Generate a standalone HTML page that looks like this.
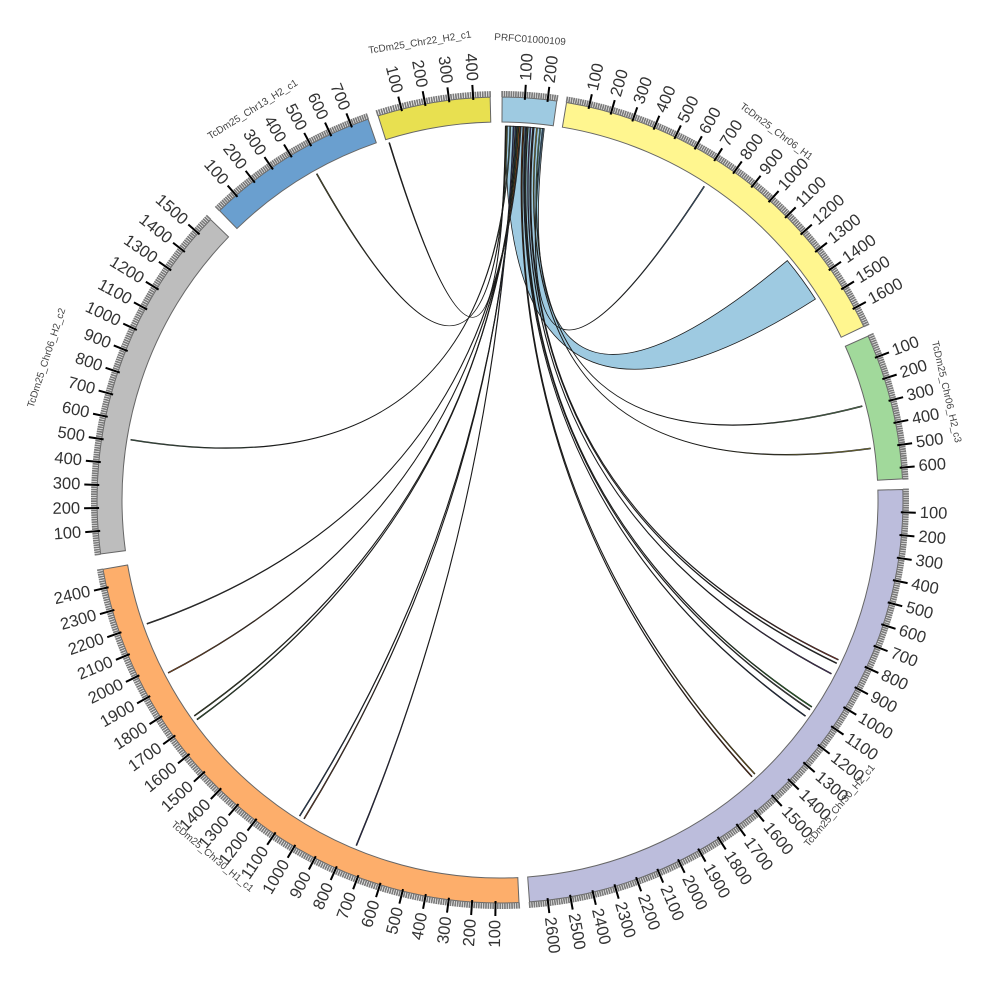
<!DOCTYPE html>
<html><head><meta charset="utf-8">
<style>
html,body{margin:0;padding:0;background:#fff;}
svg{display:block;}
.nm{font-family:"Liberation Sans",sans-serif;font-size:10px;fill:#444;}
.tk{font-family:"Liberation Sans",sans-serif;font-size:16.5px;fill:#333;}
</style></head>
<body>
<svg id="s" width="1000" height="1000" viewBox="0 0 1000 1000" xmlns="http://www.w3.org/2000/svg">
<g id="links"></g>
<g id="ring"></g>
<g id="ticks"></g>
<text class="nm" text-anchor="middle" dominant-baseline="central" transform="translate(530,40) rotate(4)">PRFC01000109</text>
<text class="nm" text-anchor="middle" dominant-baseline="central" transform="translate(776,132) rotate(37)">TcDm25_Chr06_H1</text>
<text class="nm" text-anchor="middle" dominant-baseline="central" transform="translate(946,392) rotate(77)">TcDm25_Chr06_H2_c3</text>
<text class="nm" text-anchor="middle" dominant-baseline="central" transform="translate(840,806) rotate(-50)">TcDm25_Chr30_H2_c1</text>
<text class="nm" text-anchor="middle" dominant-baseline="central" transform="translate(212,857) rotate(40)">TcDm25_Chr30_H1_c1</text>
<text class="nm" text-anchor="middle" dominant-baseline="central" transform="translate(47,358) rotate(-72)">TcDm25_Chr06_H2_c2</text>
<text class="nm" text-anchor="middle" dominant-baseline="central" transform="translate(253,110) rotate(-32)">TcDm25_Chr13_H2_c1</text>
<text class="nm" text-anchor="middle" dominant-baseline="central" transform="translate(420,43) rotate(-9)">TcDm25_Chr22_H2_c1</text>
</svg>
<script>
(function(){
var NS="http://www.w3.org/2000/svg";
function pt(r,d){var a=d*Math.PI/180;return [500+r*Math.sin(a),500-r*Math.cos(a)];}
function el(t,at,p){var e=document.createElementNS(NS,t);for(var k in at)e.setAttribute(k,at[k]);p.appendChild(e);return e;}
var segs=[[240,"#9ecae1",0.3,8.1],[1690,"#fff68f",9.5,64.5],[650,"#a1d99b",66.0,87.0],[2680,"#bcbddc",88.5,175.8],[2480,"#fdae6b",177.3,260.1],[1580,"#bdbdbd",262.3,314.1],[780,"#6a9fcf",315.9,340.9],[470,"#e8e050",342.4,358.6]];
var ring=document.getElementById("ring"),ticks=document.getElementById("ticks");
var R0=378,R1=403;
segs.forEach(function(sg){
  var a0=sg[2],a1=sg[3],s=(a1-a0)/sg[0];
  var p1=pt(R1,a0),p2=pt(R1,a1),p3=pt(R0,a1),p4=pt(R0,a0);
  var lg=(a1-a0)>180?1:0;
  el("path",{d:"M"+p1+" A"+R1+" "+R1+" 0 "+lg+" 1 "+p2+" L"+p3+" A"+R0+" "+R0+" 0 "+lg+" 0 "+p4+" Z",fill:sg[1],stroke:"#666","stroke-width":1},ring);
  var d="";
  for(var v=0;v<=sg[0];v+=10){var t=a0+v*s;var q1=pt(R1,t),q2=pt(R1+6,t);d+="M"+q1+" L"+q2+" ";}
  el("path",{d:d,stroke:"#7a7a7a","stroke-width":1.7,fill:"none"},ticks);
  for(var v=100;v<=sg[0];v+=100){
    var t=a0+v*s;var q1=pt(R1-2,t),q2=pt(R1+13,t),q3=pt(R1+17,t);
    el("line",{x1:q1[0],y1:q1[1],x2:q2[0],y2:q2[1],stroke:"#000","stroke-width":2},ticks);
    var rot,anc;
    if(t<180){rot=t-90;anc="start";}else{rot=t+90;anc="end";}
    var tx=el("text",{"class":"tk","text-anchor":anc,"dominant-baseline":"central",transform:"translate("+q3[0].toFixed(1)+","+q3[1].toFixed(1)+") rotate("+rot.toFixed(1)+")"},ticks);
    tx.textContent=String(v);
  }
});
var links=document.getElementById("links");
var RL=374;
function ribbon(a1,a2,b1,b2,fill,sw){
  var p1=pt(RL,a1),p2=pt(RL,a2),q1=pt(RL,b1),q2=pt(RL,b2);
  var d="M"+p1+" A"+RL+" "+RL+" 0 0 1 "+p2+" Q500,500 "+q1+" A"+RL+" "+RL+" 0 0 1 "+q2+" Q500,500 "+p1+" Z";
  el("path",{d:d,fill:fill,stroke:"#1a1a1a","stroke-width":sw,"fill-opacity":1},links);
}
ribbon(0.9,6.8,50.2,57.5,"#9ecae1",0.8);
var L=[[6.5,33,"#4a7fb0"],[6.1,75.4,"#7fc97f"],[5.6,82,"#d4c84a"],[5.1,115.2,"#c0392b"],[5.0,115.8,"#333"],[4.6,117.6,"#6a3d9a"],
[4.2,123.5,"#2ca02c"],[4.1,124,"#555"],[3.9,125.2,"#1f3a6b"],[3.6,137,"#b8860b"],[3.5,137.6,"#8c2d04"],
[2.0,202.5,"#3a3a8a"],[2.3,211.5,"#a0522d"],[2.4,212.3,"#2a5a9a"],[2.6,234,"#3d7a3d"],[2.7,234.7,"#556b2f"],
[2.9,242.4,"#d2691e"],[3.1,250.6,"#444"],[1.5,279.2,"#5a8a6a"],[1.0,330.6,"#8a8a3a"],[0.8,342.7,"#222"]];
L.forEach(function(l){ribbon(l[0],l[0]+0.15,l[1],l[1]+0.15,l[2],0.6);});
})();
</script>
</body></html>
